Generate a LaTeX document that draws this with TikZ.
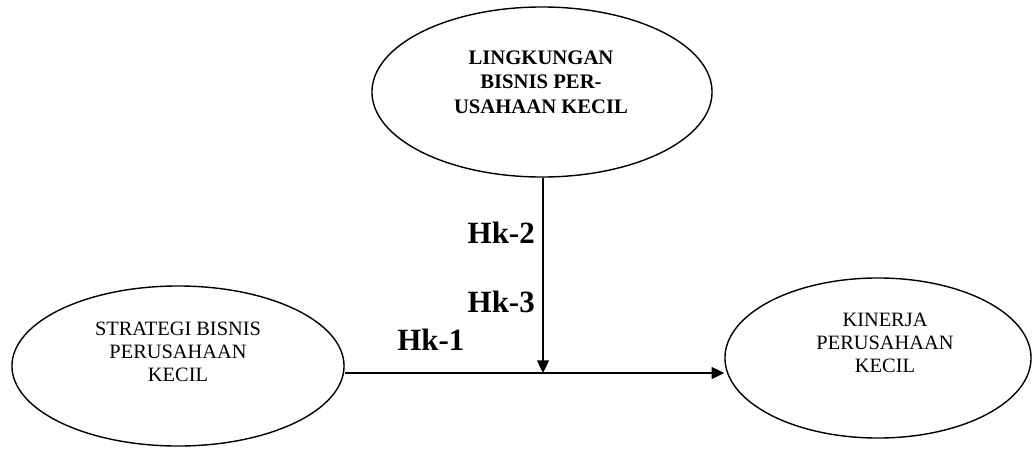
\documentclass[tikz,border=0pt]{standalone}
\usepackage{fontspec}
\setmainfont{Liberation Serif}
\usetikzlibrary{shapes.geometric,arrows.meta}

\tikzset{
  var/.style={ellipse, draw, line width=1pt, inner sep=0pt},
  vartext/.style={align=center, font=\fontsize{14.5}{16.5}\selectfont},
  hyp/.style={font=\fontsize{22}{24}\selectfont\bfseries, inner sep=0pt},
  link/.style={line width=1pt, -{Triangle[length=9pt,width=8.5pt]}}
}

\begin{document}
\begin{tikzpicture}[x=0.025cm,y=-0.025cm]
  \useasboundingbox (0,0) rectangle (1032,448);

  % the three variables
  \node [var, minimum width=8.5cm, minimum height=4.25cm] (env) at (542,92) {};
  \node [var, minimum width=8.3cm, minimum height=4.0cm] (strat) at (178,366) {};
  \node [var, minimum width=7.65cm, minimum height=4.0cm] (perf) at (878,358) {};

  \node [vartext, font=\fontsize{14.7}{17.4}\selectfont\bfseries] (envtext) at (541,82)
    {LINGKUNGAN\\BISNIS PER-\\USAHAAN KECIL};
  \node [vartext] (strattext) at (178,352) {STRATEGI BISNIS\\PERUSAHAAN\\KECIL};
  \node [vartext] (perftext) at (885,343) {KINERJA\\PERUSAHAAN\\KECIL};

  % moderating link meets the main link here
  \coordinate (hub) at (543,373);

  \draw [link] (env.south -| hub) -- (hub);
  \draw [link] (strat.east |- hub) -- (hub -| perf.west);

  % hypothesis labels
  \node [hyp, anchor=base east] (hk2) at (535,243) {Hk-2};
  \node [hyp, anchor=base east] (hk3) at (535,312) {Hk-3};
  \node [hyp, anchor=base west] (hk1) at (397,350) {Hk-1};
\end{tikzpicture}
\end{document}
